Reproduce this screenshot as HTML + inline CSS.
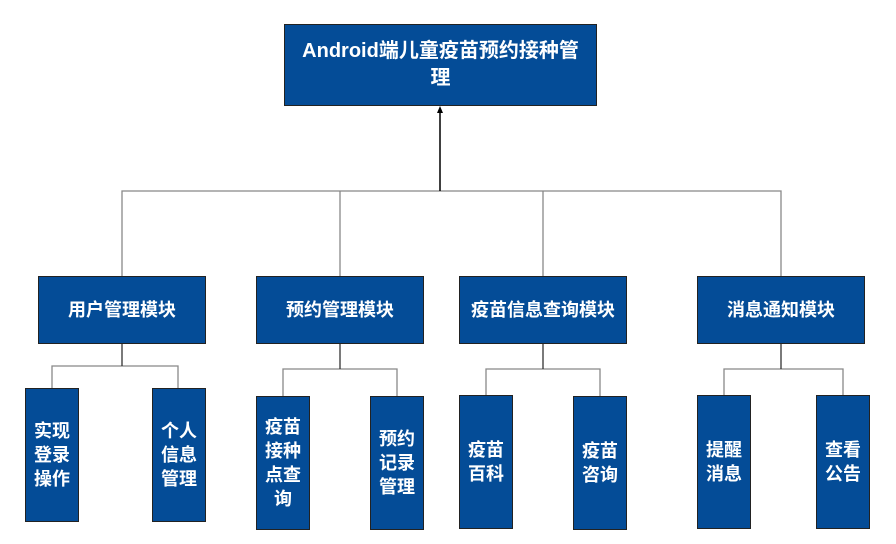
<!DOCTYPE html>
<html><head><meta charset="utf-8"><style>
body{margin:0;width:896px;height:544px;background:#fff;position:relative;overflow:hidden;font-family:"Liberation Sans","Noto Sans CJK SC",sans-serif}
.b{position:absolute;box-sizing:border-box;background:#044c97;border:1.5px solid #222;color:#fff;font-weight:bold;display:flex;align-items:center;justify-content:center;text-align:center;font-size:18px;line-height:24px}
.v{padding:0 4px}
svg{position:absolute;left:0;top:0}
</style></head><body>
<svg width="896" height="544">
<g stroke="#888" stroke-width="1.3" fill="none">
<polyline points="122,276 122,191 781,191 781,276"/>
<line x1="340" y1="191" x2="340" y2="276"/>
<line x1="543" y1="191" x2="543" y2="276"/>
<polyline points="52,388 52,366 178,366 178,388"/>
<polyline points="283,396 283,369 397,369 397,396"/>
<polyline points="486,395 486,369 600,369 600,396"/>
<polyline points="724,395 724,369 843,369 843,395"/>
</g>
<g stroke="#333" stroke-width="1.3" fill="none">
<line x1="122" y1="343" x2="122" y2="366"/>
<line x1="340" y1="343" x2="340" y2="369"/>
<line x1="543" y1="343" x2="543" y2="369"/>
<line x1="781" y1="343" x2="781" y2="369"/>
</g>
<line x1="440" y1="191" x2="440" y2="112" stroke="#000" stroke-width="1.5"/>
<polygon points="440,106 437,113 443,113" fill="#000"/>
</svg>
<div class="b" style="left:284px;top:24px;width:313px;height:82px;font-size:20px;line-height:27px">Android端儿童疫苗预约接种管<br>理</div>
<div class="b" style="left:38px;top:276px;width:168px;height:68px">用户管理模块</div>
<div class="b" style="left:256px;top:276px;width:168px;height:68px">预约管理模块</div>
<div class="b" style="left:459px;top:276px;width:168px;height:68px">疫苗信息查询模块</div>
<div class="b" style="left:697px;top:276px;width:168px;height:68px">消息通知模块</div>
<div class="b v" style="left:25px;top:388px;width:54px;height:134px">实现登录操作</div>
<div class="b v" style="left:152px;top:388px;width:54px;height:134px">个人信息管理</div>
<div class="b v" style="left:256px;top:396px;width:54px;height:134px">疫苗接种点查询</div>
<div class="b v" style="left:370px;top:396px;width:54px;height:134px">预约记录管理</div>
<div class="b v" style="left:459px;top:395px;width:54px;height:134px">疫苗百科</div>
<div class="b v" style="left:573px;top:396px;width:54px;height:134px">疫苗咨询</div>
<div class="b v" style="left:697px;top:395px;width:54px;height:134px">提醒消息</div>
<div class="b v" style="left:816px;top:395px;width:54px;height:134px">查看公告</div>
</body></html>
